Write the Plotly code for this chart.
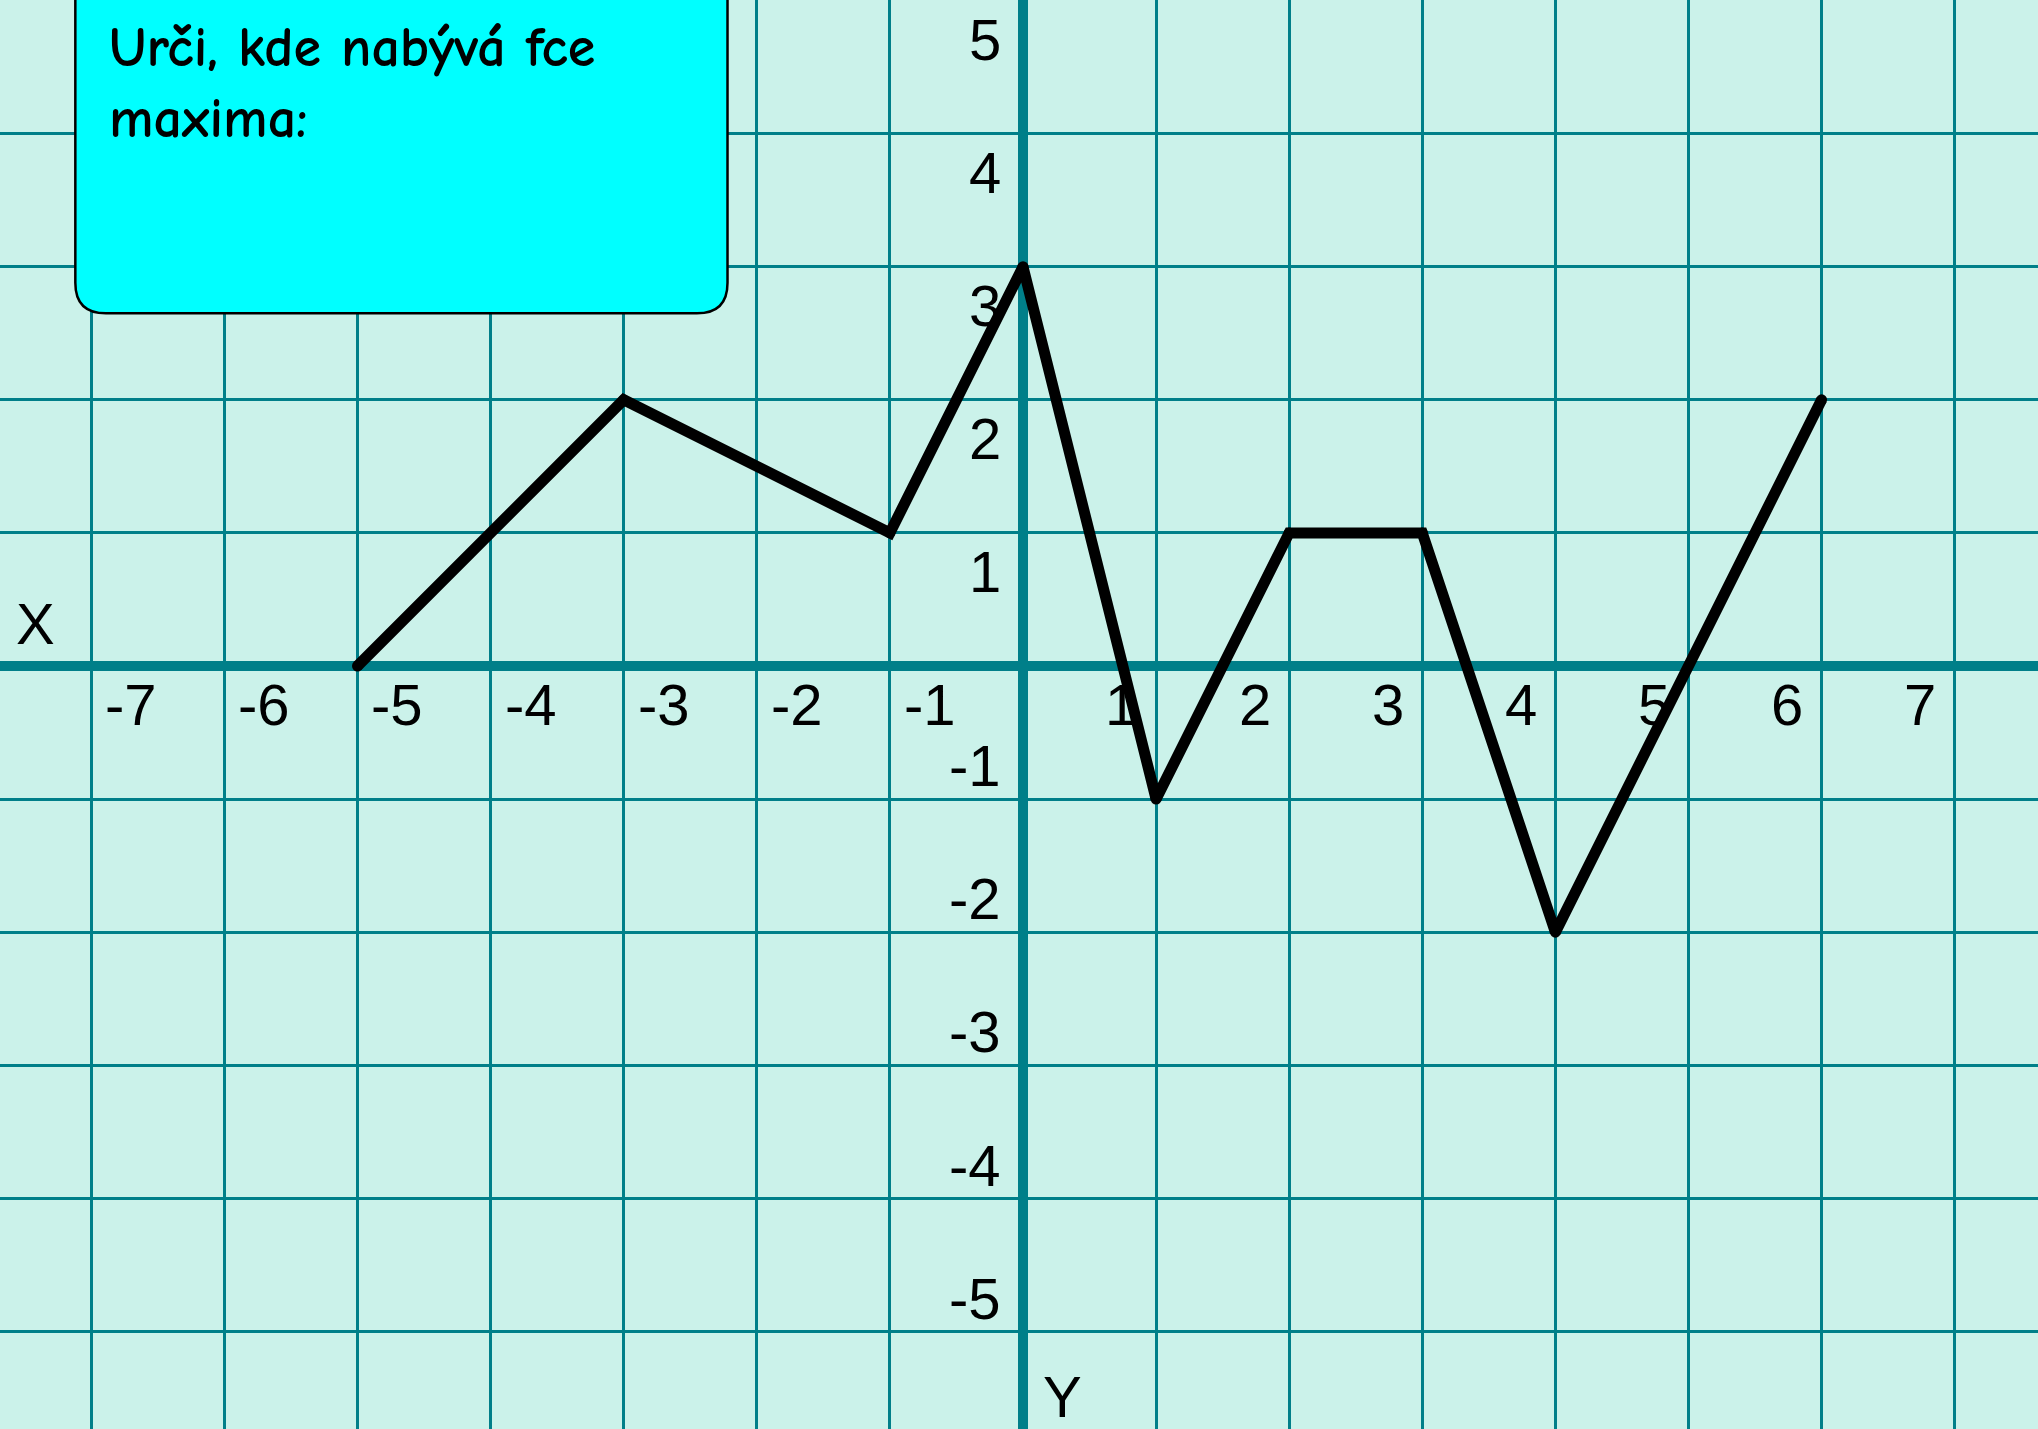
import plotly.graph_objects as go

# function graph (piecewise linear)
x_vals = [-5, -3, -1, 0, 1, 2, 3, 4, 6]
y_vals = [0, 2, 1, 3, -1, 1, 1, -2, 2]

x_ticks = [-7, -6, -5, -4, -3, -2, -1, 1, 2, 3, 4, 5, 6, 7]
y_ticks = [5, 4, 3, 2, 1, -1, -2, -3, -4, -5]

question = ["Urči, kde nabývá fce", "maxima:"]

BG = "#cbf2ea"
TEAL = "#007f89"
LABEL_FONT = dict(family="Liberation Sans, Arial, sans-serif", size=58, color="black")

fig = go.Figure()

fig.add_trace(go.Scatter(
    x=x_vals, y=y_vals, mode="lines+markers",
    line=dict(color="black", width=11),
    marker=dict(color="black", size=11),
    hoverinfo="skip", showlegend=False,
))

annotations = []
# tick labels sit inside the cells, shifted towards the origin
for k in x_ticks:
    annotations.append(dict(
        x=k - 0.26 if k > 0 else k + 0.30, y=-0.29, text=str(k),
        showarrow=False, xanchor="center", yanchor="middle", font=LABEL_FONT,
    ))
for k in y_ticks:
    annotations.append(dict(
        x=-0.15, y=k - 0.29 if k > 0 else k + 0.25, text=str(k),
        showarrow=False, xanchor="right", yanchor="middle", font=LABEL_FONT,
    ))

annotations.append(dict(x=-7.42, y=0.32, text="X", showarrow=False,
                        xanchor="center", yanchor="middle", font=LABEL_FONT))
annotations.append(dict(x=0.30, y=-5.49, text="Y", showarrow=False,
                        xanchor="center", yanchor="middle", font=LABEL_FONT))

# question box text
box_font = dict(family="Comic Sans MS, Comic Neue, Lato, sans-serif", size=56, color="black")
for i, line in enumerate(question):
    annotations.append(dict(
        x=-6.88, y=4.64 - i * 0.53, text="<b>" + line + "</b>",
        showarrow=False, xanchor="left", yanchor="middle", font=box_font,
    ))

# rounded rectangle for the question box
x0, x1, y0, y1, r = -7.12, -2.22, 2.65, 5.3, 0.23
box_path = (
    f"M {x0 + r},{y0} L {x1 - r},{y0} Q {x1},{y0} {x1},{y0 + r} "
    f"L {x1},{y1 - r} Q {x1},{y1} {x1 - r},{y1} L {x0 + r},{y1} "
    f"Q {x0},{y1} {x0},{y1 - r} L {x0},{y0 + r} Q {x0},{y0} {x0 + r},{y0} Z"
)

fig.update_layout(
    width=2038, height=1429,
    margin=dict(l=0, r=0, t=0, b=0),
    paper_bgcolor=BG, plot_bgcolor=BG,
    shapes=[dict(type="path", path=box_path, xref="x", yref="y",
                 fillcolor="#00ffff", line=dict(color="black", width=2.5),
                 layer="above")],
    annotations=annotations,
    showlegend=False,
)

axis_style = dict(
    dtick=1, tick0=0, showgrid=True, gridcolor=TEAL, gridwidth=3,
    zeroline=True, zerolinecolor=TEAL, zerolinewidth=10,
    showticklabels=False, ticks="", showline=False, fixedrange=True,
)
fig.update_xaxes(range=[-7.686, 7.626], **axis_style)
fig.update_yaxes(range=[-5.733, 5.004], **axis_style)

fig.write_html(
    "out.html",
    config={"displayModeBar": False},
    post_script="document.body.style.margin='0';document.body.style.overflow='hidden';",
)
